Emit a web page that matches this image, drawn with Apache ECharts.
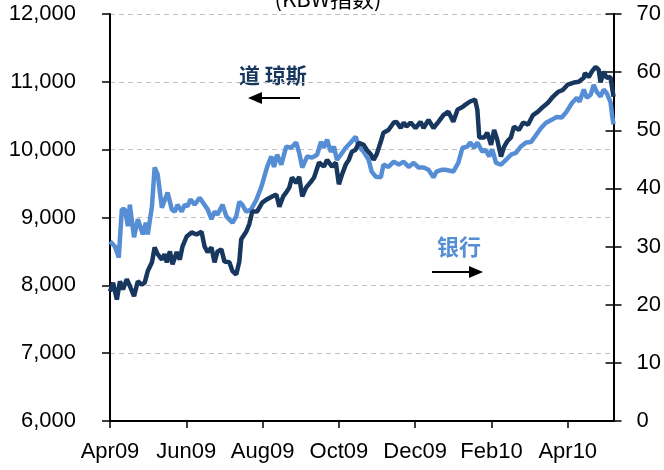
<!DOCTYPE html>
<html>
<head>
<meta charset="utf-8">
<script src="https://cdn.jsdelivr.net/npm/echarts@6/dist/echarts.min.js"></script>
<style>
  html, body { margin: 0; padding: 0; background: #fff; }
  #chart { width: 664px; height: 470px; }
</style>
</head>
<body>
<div id="chart"></div>
<script>
// x positions are months counted from the start of Apr 2009
const monthLabels = ['Apr09', 'Jun09', 'Aug09', 'Oct09', 'Dec09', 'Feb10', 'Apr10']

const dowMonths = [0, 0.08, 0.18, 0.26, 0.34, 0.44, 0.52, 0.63, 0.73, 0.83, 0.91, 0.99, 1.10, 1.17, 1.25, 1.36, 1.43, 1.49, 1.57, 1.64, 1.75, 1.83, 1.90, 2.01, 2.14, 2.27, 2.40, 2.48, 2.56, 2.66, 2.74, 2.82, 2.92, 3.00, 3.13, 3.21, 3.31, 3.39, 3.44, 3.57, 3.65, 3.73, 3.86, 3.99, 4.12, 4.25, 4.36, 4.44, 4.54, 4.62, 4.70, 4.77, 4.88, 4.96, 5.04, 5.14, 5.27, 5.35, 5.48, 5.61, 5.69, 5.82, 5.92, 6.00, 6.08, 6.18, 6.26, 6.34, 6.44, 6.52, 6.65, 6.73, 6.84, 6.91, 6.99, 7.10, 7.17, 7.30, 7.44, 7.51, 7.62, 7.70, 7.77, 7.88, 8.01, 8.14, 8.22, 8.35, 8.48, 8.61, 8.74, 8.87, 9.00, 9.11, 9.24, 9.31, 9.44, 9.57, 9.63, 9.68, 9.81, 9.89, 9.99, 10.07, 10.15, 10.25, 10.33, 10.41, 10.51, 10.59, 10.72, 10.83, 10.96, 11.09, 11.22, 11.35, 11.48, 11.61, 11.74, 11.87, 12.00, 12.16, 12.29, 12.42, 12.45, 12.55, 12.63, 12.73, 12.81, 12.86, 12.94, 13.02, 13.12, 13.20]
const dowValues = [7910, 8040, 7790, 8060, 7940, 8090, 7990, 7840, 8060, 8010, 8040, 8210, 8340, 8560, 8460, 8380, 8460, 8340, 8500, 8310, 8490, 8380, 8570, 8720, 8780, 8750, 8790, 8570, 8490, 8560, 8340, 8500, 8530, 8350, 8340, 8210, 8160, 8350, 8680, 8790, 8900, 9090, 9090, 9220, 9270, 9310, 9340, 9160, 9310, 9370, 9440, 9590, 9510, 9600, 9310, 9440, 9530, 9590, 9810, 9750, 9850, 9750, 9810, 9490, 9630, 9780, 9850, 9970, 10000, 10100, 10070, 10000, 9930, 9850, 9930, 10120, 10250, 10290, 10400, 10410, 10320, 10400, 10340, 10400, 10320, 10410, 10320, 10440, 10320, 10410, 10510, 10560, 10410, 10590, 10630, 10660, 10710, 10740, 10590, 10180, 10180, 10250, 10070, 10290, 10150, 9900, 10040, 10120, 10180, 10340, 10290, 10400, 10370, 10510, 10560, 10630, 10690, 10780, 10850, 10880, 10960, 10990, 11000, 11060, 11130, 11070, 11150, 11220, 11180, 10990, 11150, 11060, 11070, 10780]

const bankMonths = [0, 0.13, 0.23, 0.31, 0.39, 0.47, 0.52, 0.63, 0.73, 0.86, 0.94, 0.99, 1.10, 1.17, 1.25, 1.36, 1.51, 1.62, 1.70, 1.77, 1.88, 1.96, 2.03, 2.11, 2.22, 2.35, 2.56, 2.66, 2.74, 2.82, 2.95, 3.05, 3.21, 3.31, 3.39, 3.47, 3.57, 3.70, 3.84, 3.97, 4.04, 4.12, 4.23, 4.30, 4.38, 4.49, 4.62, 4.75, 4.88, 4.96, 5.04, 5.17, 5.30, 5.43, 5.53, 5.61, 5.69, 5.79, 5.87, 5.95, 6.05, 6.18, 6.31, 6.44, 6.52, 6.65, 6.78, 6.86, 6.97, 7.10, 7.17, 7.30, 7.44, 7.57, 7.70, 7.83, 7.96, 8.09, 8.22, 8.35, 8.48, 8.56, 8.69, 8.79, 9.00, 9.13, 9.24, 9.37, 9.44, 9.55, 9.63, 9.76, 9.84, 9.94, 10.02, 10.12, 10.25, 10.38, 10.51, 10.64, 10.77, 10.91, 11.04, 11.17, 11.30, 11.43, 11.58, 11.71, 11.84, 11.97, 12.11, 12.24, 12.31, 12.42, 12.50, 12.60, 12.68, 12.76, 12.86, 12.94, 13.02, 13.12, 13.17, 13.20]
const bankValues = [30.9, 30.0, 28.1, 36.4, 36.4, 33.5, 37.2, 31.6, 34.7, 32.1, 34.1, 32.1, 36.9, 43.6, 42.4, 36.7, 39.3, 36.4, 36.0, 37.2, 36.0, 37.2, 36.9, 38.1, 37.2, 38.4, 36.4, 34.7, 36.0, 35.5, 37.2, 35.2, 34.1, 35.2, 37.7, 37.2, 36.0, 36.4, 38.1, 40.3, 41.9, 43.7, 45.5, 43.7, 45.8, 44.1, 47.2, 47.0, 47.9, 46.1, 43.6, 45.5, 45.3, 45.8, 48.0, 47.0, 48.4, 46.3, 47.2, 44.9, 45.8, 47.0, 47.9, 48.9, 47.2, 46.3, 44.9, 42.9, 42.0, 41.9, 44.1, 43.7, 44.6, 44.1, 44.6, 43.7, 44.4, 43.6, 43.6, 43.2, 41.9, 42.9, 43.2, 43.2, 42.9, 44.4, 47.0, 47.2, 47.9, 47.0, 47.9, 46.3, 46.7, 45.5, 46.7, 44.4, 44.1, 44.9, 45.8, 46.1, 47.2, 47.9, 48.0, 49.2, 50.4, 51.3, 51.8, 52.3, 52.2, 53.2, 54.7, 55.6, 54.9, 57.0, 55.6, 56.1, 57.8, 56.6, 55.8, 57.0, 56.4, 54.9, 52.2, 51.0]

const DARK = '#17375e'
const LIGHT = '#558ed5'
const FONT = 'Liberation Sans'
const CJK = '"Noto Sans CJK SC"'

const pairs = (xs, ys) => xs.map((x, i) => [x, ys[i]])

const chart = echarts.init(document.getElementById('chart'))

const axisText = { color: '#000', fontFamily: FONT, fontSize: 22 }
const blackLine = { color: '#000', width: 2 }
const tickLine = { color: '#000', width: 1.5 }

chart.setOption({
  animation: false,
  grid: { left: 110, right: 50, top: 14, bottom: 49 },
  xAxis: {
    type: 'value',
    min: 0,
    max: 13.2,
    interval: 2,
    axisLine: { lineStyle: blackLine },
    axisTick: { length: 7, lineStyle: tickLine },
    splitLine: { show: false },
    axisLabel: Object.assign({}, axisText, {
      margin: 20,
      showMaxLabel: false,
      formatter: v => (v % 2 === 0 ? monthLabels[v / 2] : '')
    })
  },
  yAxis: [
    {
      type: 'value',
      min: 6000,
      max: 12000,
      interval: 1000,
      axisLine: { show: true, lineStyle: blackLine },
      axisTick: { show: true, length: 8, lineStyle: tickLine },
      splitLine: { lineStyle: { color: '#bfbfbf', type: [5, 4], width: 1.2 } },
      axisLabel: Object.assign({}, axisText, {
        margin: 34,
        formatter: v => v.toLocaleString('en-US')
      })
    },
    {
      type: 'value',
      min: 0,
      max: 70,
      interval: 10,
      position: 'right',
      axisLine: { show: true, lineStyle: blackLine },
      axisTick: { show: true, length: 8, lineStyle: tickLine },
      splitLine: { show: false },
      axisLabel: Object.assign({}, axisText, { margin: 23 })
    },
    {
      // inner half of the right axis ticks (they cross the axis)
      type: 'value',
      min: 0,
      max: 70,
      interval: 10,
      position: 'right',
      axisLine: { show: false },
      axisTick: { show: true, inside: true, length: 8, lineStyle: tickLine },
      splitLine: { show: false },
      axisLabel: { show: false }
    }
  ],
  graphic: [
    {
      type: 'text', x: 328, y: -1,
      style: { text: '(KBW指数)', font: '22px ' + CJK, fill: '#000', textAlign: 'center', textVerticalAlign: 'middle' }
    },
    {
      type: 'text', x: 239, y: 75,
      style: { text: '道 琼斯', font: 'bold 21px ' + CJK, fill: DARK, textVerticalAlign: 'middle' }
    },
    { type: 'line', shape: { x1: 260, y1: 98, x2: 300, y2: 98 }, style: { stroke: '#000', lineWidth: 2 } },
    { type: 'polygon', shape: { points: [[248, 98], [262, 92], [262, 104]] }, style: { fill: '#000' } },
    {
      type: 'text', x: 437, y: 247,
      style: { text: '银行', font: 'bold 22px ' + CJK, fill: LIGHT, textVerticalAlign: 'middle' }
    },
    { type: 'line', shape: { x1: 432, y1: 272, x2: 472, y2: 272 }, style: { stroke: '#000', lineWidth: 2 } },
    { type: 'polygon', shape: { points: [[483, 272], [469, 266], [469, 278]] }, style: { fill: '#000' } }
  ],
  series: [
    {
      name: '银行',
      type: 'line',
      yAxisIndex: 1,
      showSymbol: false,
      lineStyle: { color: LIGHT, width: 4.5 },
      data: pairs(bankMonths, bankValues)
    },
    {
      name: '道琼斯',
      type: 'line',
      yAxisIndex: 0,
      showSymbol: false,
      lineStyle: { color: DARK, width: 4.5 },
      data: pairs(dowMonths, dowValues)
    }
  ]
})
</script>
</body>
</html>
